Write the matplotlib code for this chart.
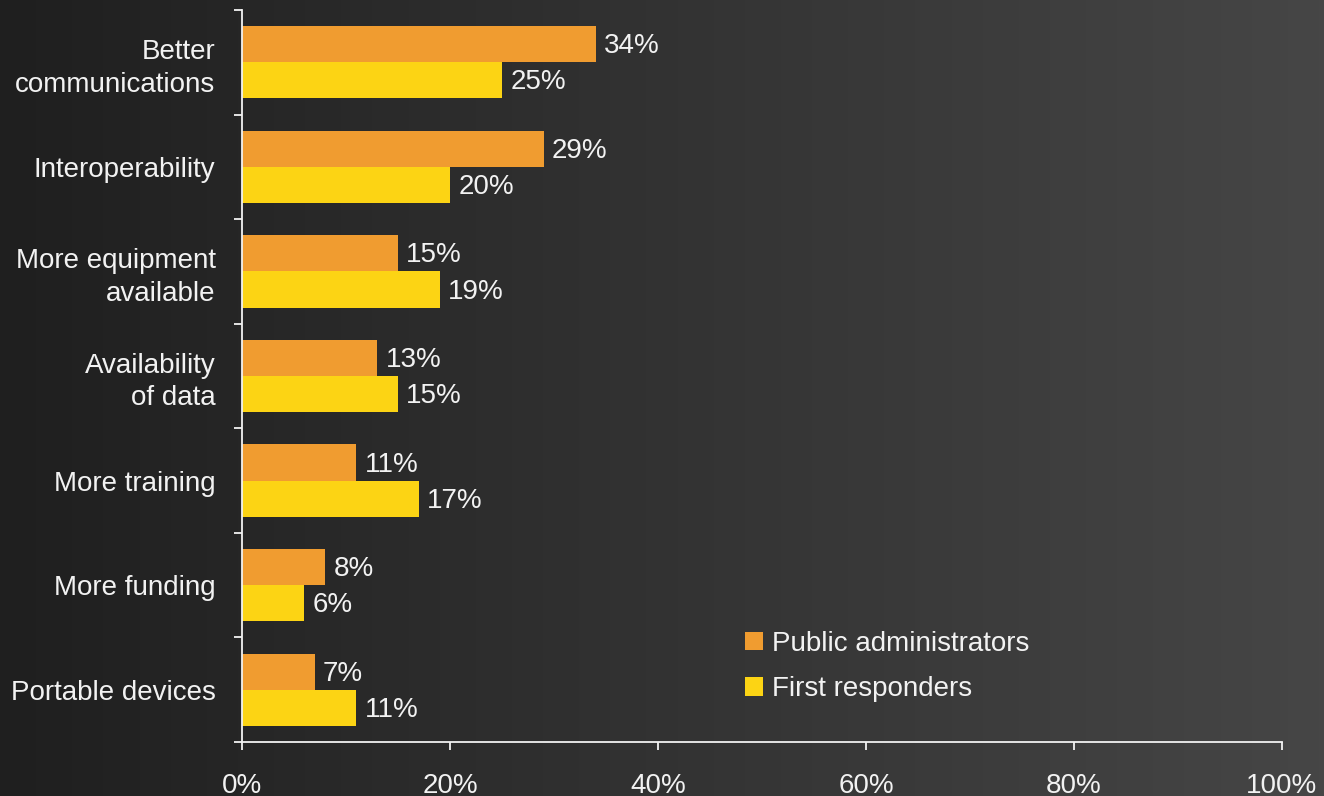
import numpy as np
import matplotlib.pyplot as plt
from matplotlib.colors import LinearSegmentedColormap

plt.rcParams['font.family'] = ['Liberation Sans', 'DejaVu Sans']

categories = ["Better\ncommunications", "Interoperability", "More equipment\navailable",
              "Availability\nof data", "More training", "More funding", "Portable devices"]
public_admin = [34, 29, 15, 13, 11, 8, 7]
first_resp = [25, 20, 19, 15, 17, 6, 11]
series_names = ["Public administrators", "First responders"]
x_ticks = [0, 20, 40, 60, 80, 100]

ORANGE = '#F09C30'
YELLOW = '#FCD414'
FG = '#F2F2F2'
FS = 20

fig = plt.figure(figsize=(13.24, 7.96), dpi=100)

# gradient background
bg = fig.add_axes([0, 0, 1, 1], zorder=-1)
cmap = LinearSegmentedColormap.from_list('bg', ['#1f1f1f', '#464646'])
bg.imshow(np.linspace(0, 1, 256)[None, :], aspect='auto', cmap=cmap, extent=[0, 1, 0, 1])
bg.axis('off')

ax = fig.add_axes([242 / 1324, 54 / 796, 1040 / 1324, 732 / 796])
ax.set_facecolor('none')

n = len(categories)
y = np.arange(n)[::-1].astype(float)
h = 0.345
ax.barh(y + h / 2, public_admin, height=h, color=ORANGE, label=series_names[0])
ax.barh(y - h / 2, first_resp, height=h, color=YELLOW, label=series_names[1])

for yi, v in zip(y, public_admin):
    ax.text(v + 0.8, yi + h / 2 - 0.02, f"{v}%", va='center', ha='left', color=FG, fontsize=FS)
for yi, v in zip(y, first_resp):
    ax.text(v + 0.8, yi - h / 2 - 0.02, f"{v}%", va='center', ha='left', color=FG, fontsize=FS)

ax.set_xlim(0, 100)
ax.set_ylim(-0.5, n - 0.5)
ax.set_xticks(x_ticks)
ax.set_xticklabels([f"{t}%" for t in x_ticks])
ax.set_yticks(y)
ax.set_yticklabels(categories, ha='right', multialignment='right', linespacing=1.32)
ax.set_yticks(np.arange(-0.5, n, 1.0), minor=True)

ax.tick_params(axis='y', which='major', length=0, pad=19, labelsize=FS, colors=FG)
ax.tick_params(axis='y', which='minor', length=6, width=1.3, color=FG)
ax.tick_params(axis='x', length=6, width=1.3, pad=16, labelsize=FS, colors=FG)

for s in ['top', 'right']:
    ax.spines[s].set_visible(False)
for s in ['left', 'bottom']:
    ax.spines[s].set_color(FG)
    ax.spines[s].set_linewidth(1.3)

leg = ax.legend(loc='lower left', bbox_to_anchor=(0.46, 0.02), frameon=False,
                fontsize=FS, handlelength=0.65, handleheight=0.65, handletextpad=0.3,
                labelspacing=0.7, labelcolor=FG)

fig.savefig('out.png', dpi=100)
